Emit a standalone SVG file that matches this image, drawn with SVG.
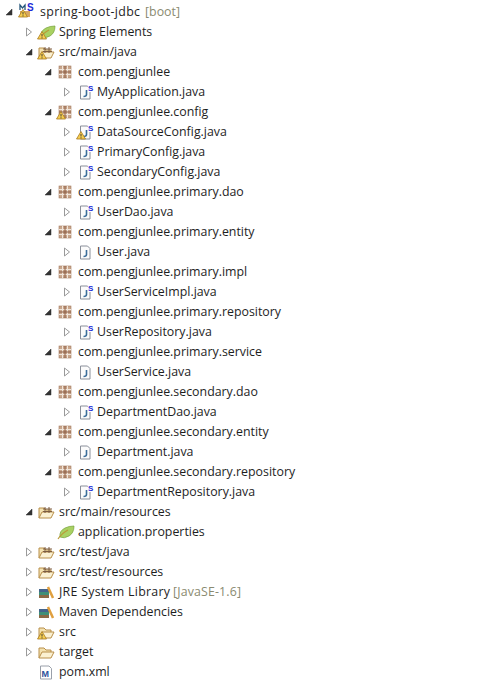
<svg xmlns="http://www.w3.org/2000/svg" width="493" height="682" viewBox="0 0 493 682">
<style>
text{font-family:"Open Sans","Noto Sans","Liberation Sans",sans-serif;font-size:12.37px;fill:#1e1e1e}
.o{fill:#fff;stroke:#9a9a9a;stroke-width:1}
.e{fill:#333;stroke:#333;stroke-width:.5}
</style>
<defs>
<g id="closed"><path class="o" d="M-2.500-4 L2.500 0 L-2.500 4Z"/></g>
<g id="open"><path class="e" d="M3-3 L3 3 L-3 3Z"/></g>
<g id="warn"><path d="M0-4.500 L4.500 3 L-4.500 3Z" fill="#f5cd50" stroke="#a87a20" stroke-width=".8"/><path d="M0-2V0.500M0 1.300V2.400" stroke="#333" stroke-width=".9"/></g>
<g id="pkg"><rect x="-6" y="-6" width="12" height="12" fill="#c9a68c" stroke="#a57c60" stroke-width=".6"/><path d="M-6-2.500H6M-6 2.500H6M-2.500-6V6M2.500-6V6" stroke="#f0e5da" stroke-width="1" fill="none"/><path d="M0-6V6M-6 0H6" stroke="#8c5f47" stroke-width="1"/></g>
<g id="jfile"><path d="M-4.500-6H2.500L5-3.500V7H-4.500Z" fill="#fbfbfb" stroke="#8a8f9a" stroke-width="1"/><path d="M1.500-2V2.500Q1.500 4.500-1.500 4.500" fill="none" stroke="#3b6d9a" stroke-width="1.600"/></g>
<g id="jsfile"><use href="#jfile"/><rect x="3" y="-7" width="5" height="7" fill="#fff"/><text x="3" y="-1" style="font-size:8px;font-weight:bold;fill:#1d2bd8;font-family:'Liberation Sans',sans-serif">S</text></g>
<g id="leaf"><path d="M-6 5Q-7-1 -1-4Q3-6 8-6Q8 1 3 4Q-2 7-6 5Z" fill="#a9d162" stroke="#74a03a" stroke-width=".7"/><path d="M-8 7Q-4 1 2-2" stroke="#ba9a3a" stroke-width="1.200" fill="none"/></g>
<g id="srcfolder"><path d="M-7 6V-4H-2L0-2H5V0" fill="#f4e2b0" stroke="#b88f4a" stroke-width="1"/><path d="M-7 6L-4 0H8L5 6Z" fill="#fbf1d2" stroke="#b88f4a" stroke-width="1"/><path d="M-1-5V1M3-5V1M-3-3H6M-3-.5H6" stroke="#7d5c40" stroke-width="1" fill="none"/></g>
<g id="folder"><path d="M-7 6V-4H-2L0-2H5V0" fill="#f4e2b0" stroke="#b88f4a" stroke-width="1"/><path d="M-7 6L-4 0H8L5 6Z" fill="#fbf1d2" stroke="#b88f4a" stroke-width="1"/></g>
<g id="lib"><rect x="-7" y="3" width="10" height="3" fill="#8a6a46"/><rect x="-7" y="0" width="10" height="3" fill="#3f8f78"/><rect x="-7" y="-3" width="10" height="3" fill="#44648c"/><path d="M2-5L7 6" stroke="#e0a040" stroke-width="2.500"/></g>
<g id="maven"><path d="M-5.500-6H3L5.500-3.500V7H-5.500Z" fill="#fff" stroke="#9aa0aa"/><text x="-4.500" y="5" style="font-size:9px;font-weight:bold;fill:#2d4f9a;font-family:'Liberation Sans',sans-serif">M</text></g>
</defs>
<rect width="493" height="682" fill="#fff"/>
<g id="connectors"/>
<g id="root"><use href="#open" x="9" y="12"/><path d="M20 10V5L22.500 8L25 5V10" fill="none" stroke="#24557a" stroke-width="1.300"/><text x="27" y="11" style="font-size:10px;font-weight:bold;fill:#1d2bd8;font-family:'Liberation Sans',sans-serif">S</text><rect x="20" y="11" width="10" height="6" fill="#d8a860"/><use href="#warn" x="23" y="14"/><text x="40" y="16" textLength="100">spring-boot-jdbc</text><text x="145" y="16" fill="#8a8a70" style="fill:#8a8a70" textLength="35">[boot]</text></g>
<g id="spring-elements"><use href="#closed" x="29" y="32"/><use href="#leaf" x="47" y="32"/><use href="#warn" x="42" y="36"/><text x="59" y="36">Spring Elements</text></g>
<g id="src-main-java"><use href="#open" x="29" y="52"/><use href="#srcfolder" x="46" y="52"/><use href="#warn" x="42" y="56"/><text x="59" y="56">src/main/java</text></g>
<g id="p1"><use href="#open" x="48" y="72"/><use href="#pkg" x="65" y="72"/><text x="78" y="76">com.pengjunlee</text></g>
<g id="f1"><use href="#closed" x="67" y="92"/><use href="#jsfile" x="85" y="92"/><text x="97" y="96">MyApplication.java</text></g>
<g id="p2"><use href="#open" x="48" y="112"/><use href="#pkg" x="65" y="112"/><use href="#warn" x="61" y="116"/><text x="78" y="116">com.pengjunlee.config</text></g>
<g id="f2"><use href="#closed" x="67" y="132"/><use href="#jsfile" x="85" y="132"/><use href="#warn" x="81" y="136"/><text x="97" y="136">DataSourceConfig.java</text></g>
<g id="f3"><use href="#closed" x="67" y="152"/><use href="#jsfile" x="85" y="152"/><text x="97" y="156">PrimaryConfig.java</text></g>
<g id="f4"><use href="#closed" x="67" y="172"/><use href="#jsfile" x="85" y="172"/><text x="97" y="176">SecondaryConfig.java</text></g>
<g id="p3"><use href="#open" x="48" y="192"/><use href="#pkg" x="65" y="192"/><text x="78" y="196">com.pengjunlee.primary.dao</text></g>
<g id="f5"><use href="#closed" x="67" y="212"/><use href="#jsfile" x="85" y="212"/><text x="97" y="216">UserDao.java</text></g>
<g id="p4"><use href="#open" x="48" y="232"/><use href="#pkg" x="65" y="232"/><text x="78" y="236">com.pengjunlee.primary.entity</text></g>
<g id="f6"><use href="#closed" x="67" y="252"/><use href="#jfile" x="85" y="252"/><text x="97" y="256">User.java</text></g>
<g id="p5"><use href="#open" x="48" y="272"/><use href="#pkg" x="65" y="272"/><text x="78" y="276">com.pengjunlee.primary.impl</text></g>
<g id="f7"><use href="#closed" x="67" y="292"/><use href="#jsfile" x="85" y="292"/><text x="97" y="296">UserServiceImpl.java</text></g>
<g id="p6"><use href="#open" x="48" y="312"/><use href="#pkg" x="65" y="312"/><text x="78" y="316">com.pengjunlee.primary.repository</text></g>
<g id="f8"><use href="#closed" x="67" y="332"/><use href="#jsfile" x="85" y="332"/><text x="97" y="336">UserRepository.java</text></g>
<g id="p7"><use href="#open" x="48" y="352"/><use href="#pkg" x="65" y="352"/><text x="78" y="356">com.pengjunlee.primary.service</text></g>
<g id="f9"><use href="#closed" x="67" y="372"/><use href="#jfile" x="85" y="372"/><text x="97" y="376">UserService.java</text></g>
<g id="p8"><use href="#open" x="48" y="392"/><use href="#pkg" x="65" y="392"/><text x="78" y="396">com.pengjunlee.secondary.dao</text></g>
<g id="f10"><use href="#closed" x="67" y="412"/><use href="#jsfile" x="85" y="412"/><text x="97" y="416">DepartmentDao.java</text></g>
<g id="p9"><use href="#open" x="48" y="432"/><use href="#pkg" x="65" y="432"/><text x="78" y="436">com.pengjunlee.secondary.entity</text></g>
<g id="f11"><use href="#closed" x="67" y="452"/><use href="#jfile" x="85" y="452"/><text x="97" y="456">Department.java</text></g>
<g id="p10"><use href="#open" x="48" y="472"/><use href="#pkg" x="65" y="472"/><text x="78" y="476">com.pengjunlee.secondary.repository</text></g>
<g id="f12"><use href="#closed" x="67" y="492"/><use href="#jsfile" x="85" y="492"/><text x="97" y="496">DepartmentRepository.java</text></g>
<g id="src-main-resources"><use href="#open" x="29" y="512"/><use href="#srcfolder" x="46" y="512"/><text x="59" y="516">src/main/resources</text></g>
<g id="app-props"><use href="#leaf" x="66" y="532"/><text x="78" y="536">application.properties</text></g>
<g id="src-test-java"><use href="#closed" x="29" y="552"/><use href="#srcfolder" x="46" y="552"/><text x="59" y="556">src/test/java</text></g>
<g id="src-test-resources"><use href="#closed" x="29" y="572"/><use href="#srcfolder" x="46" y="572"/><text x="59" y="576">src/test/resources</text></g>
<g id="jre"><use href="#closed" x="29" y="592"/><use href="#lib" x="46" y="592"/><text x="59" y="596" textLength="111">JRE System Library</text><text x="173" y="596" style="fill:#8a8a70" textLength="68">[JavaSE-1.6]</text></g>
<g id="maven-deps"><use href="#closed" x="29" y="612"/><use href="#lib" x="46" y="612"/><text x="59" y="616">Maven Dependencies</text></g>
<g id="src"><use href="#closed" x="29" y="632"/><use href="#folder" x="46" y="632"/><use href="#warn" x="42" y="636"/><text x="59" y="636">src</text></g>
<g id="target"><use href="#closed" x="29" y="652"/><use href="#folder" x="46" y="652"/><text x="59" y="656">target</text></g>
<g id="pom"><use href="#maven" x="46" y="672"/><text x="59" y="676">pom.xml</text></g>
</svg>
